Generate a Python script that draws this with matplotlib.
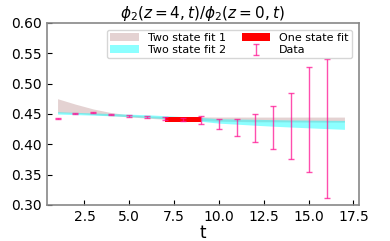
import numpy as np
import matplotlib.pyplot as plt

# data points
t = [1, 2, 3, 4, 5, 6, 7, 8, 9, 10, 11, 12, 13, 14, 15, 16]
ratio = [0.443, 0.450, 0.452, 0.449, 0.4465, 0.4447, 0.442, 0.441, 0.4395,
         0.4335, 0.428, 0.4264, 0.4269, 0.4303, 0.4405, 0.4258]
ratio_err = [0.0008, 0.0008, 0.0010, 0.0010, 0.0012, 0.0018, 0.0025, 0.003, 0.0065,
             0.0087, 0.014, 0.0234, 0.0356, 0.0545, 0.0871, 0.1152]

# two state fit bands
t_fit = [1, 2, 3, 4, 5, 6, 7, 8, 9, 10, 11, 12, 13, 14, 15, 16, 17]
fit1_hi = [0.475, 0.466, 0.458, 0.452, 0.4485, 0.4465, 0.4455, 0.445, 0.445,
           0.4448, 0.4448, 0.4447, 0.4447, 0.4447, 0.4447, 0.4447, 0.4447]
fit1_lo = [0.452, 0.451, 0.449, 0.447, 0.445, 0.443, 0.441, 0.440, 0.439,
           0.438, 0.4375, 0.437, 0.437, 0.4368, 0.4366, 0.4365, 0.4365]
fit2_hi = [0.4536, 0.4525, 0.4515, 0.4505, 0.4495, 0.4485, 0.4470, 0.4455, 0.4440,
           0.4420, 0.4415, 0.4410, 0.4405, 0.4400, 0.4397, 0.4394, 0.4392]
fit2_lo = [0.4497, 0.4488, 0.4478, 0.4468, 0.4455, 0.4440, 0.4420, 0.4400, 0.4378,
           0.4347, 0.4330, 0.4313, 0.4297, 0.4283, 0.4270, 0.4257, 0.4245]

# one state fit
t_one = [7, 9]
one_lo = [0.4368, 0.4368]
one_hi = [0.4447, 0.4447]

fig, ax = plt.subplots(figsize=(3.9, 2.41), dpi=100)

ax.fill_between(t_fit, fit1_lo, fit1_hi, color='rosybrown', alpha=0.4, lw=0, label='Two state fit 1')
ax.fill_between(t_fit, fit2_lo, fit2_hi, color='cyan', alpha=0.45, lw=0, label='Two state fit 2')
ax.fill_between(t_one, one_lo, one_hi, color='red', lw=0, label='One state fit')
ax.errorbar(t, ratio, yerr=ratio_err, fmt='none', ecolor='deeppink', alpha=0.75,
            elinewidth=1, capsize=2, label='Data')

ax.set_xlim(0.4, 17.8)
ax.set_ylim(0.30, 0.60)
ax.set_xticks([2.5, 5.0, 7.5, 10.0, 12.5, 15.0, 17.5])
ax.set_yticks([0.30, 0.35, 0.40, 0.45, 0.50, 0.55, 0.60])
ax.tick_params(direction='in', labelsize=10)
for s in ax.spines.values():
    s.set_color('#888888')
    s.set_linewidth(1.2)

ax.set_title(r'$\phi_2(z=4,t)/\phi_2(z=0,t)$', fontsize=11, pad=3)
ax.set_xlabel('t', fontsize=12, labelpad=0)
ax.legend(ncol=2, loc='upper right', fontsize=8, handlelength=2.6,
          borderpad=0.3, labelspacing=0.2, columnspacing=1.4, borderaxespad=0.6)

plt.subplots_adjust(left=0.12, right=0.92, top=0.905, bottom=0.15)
plt.savefig('out.png')
